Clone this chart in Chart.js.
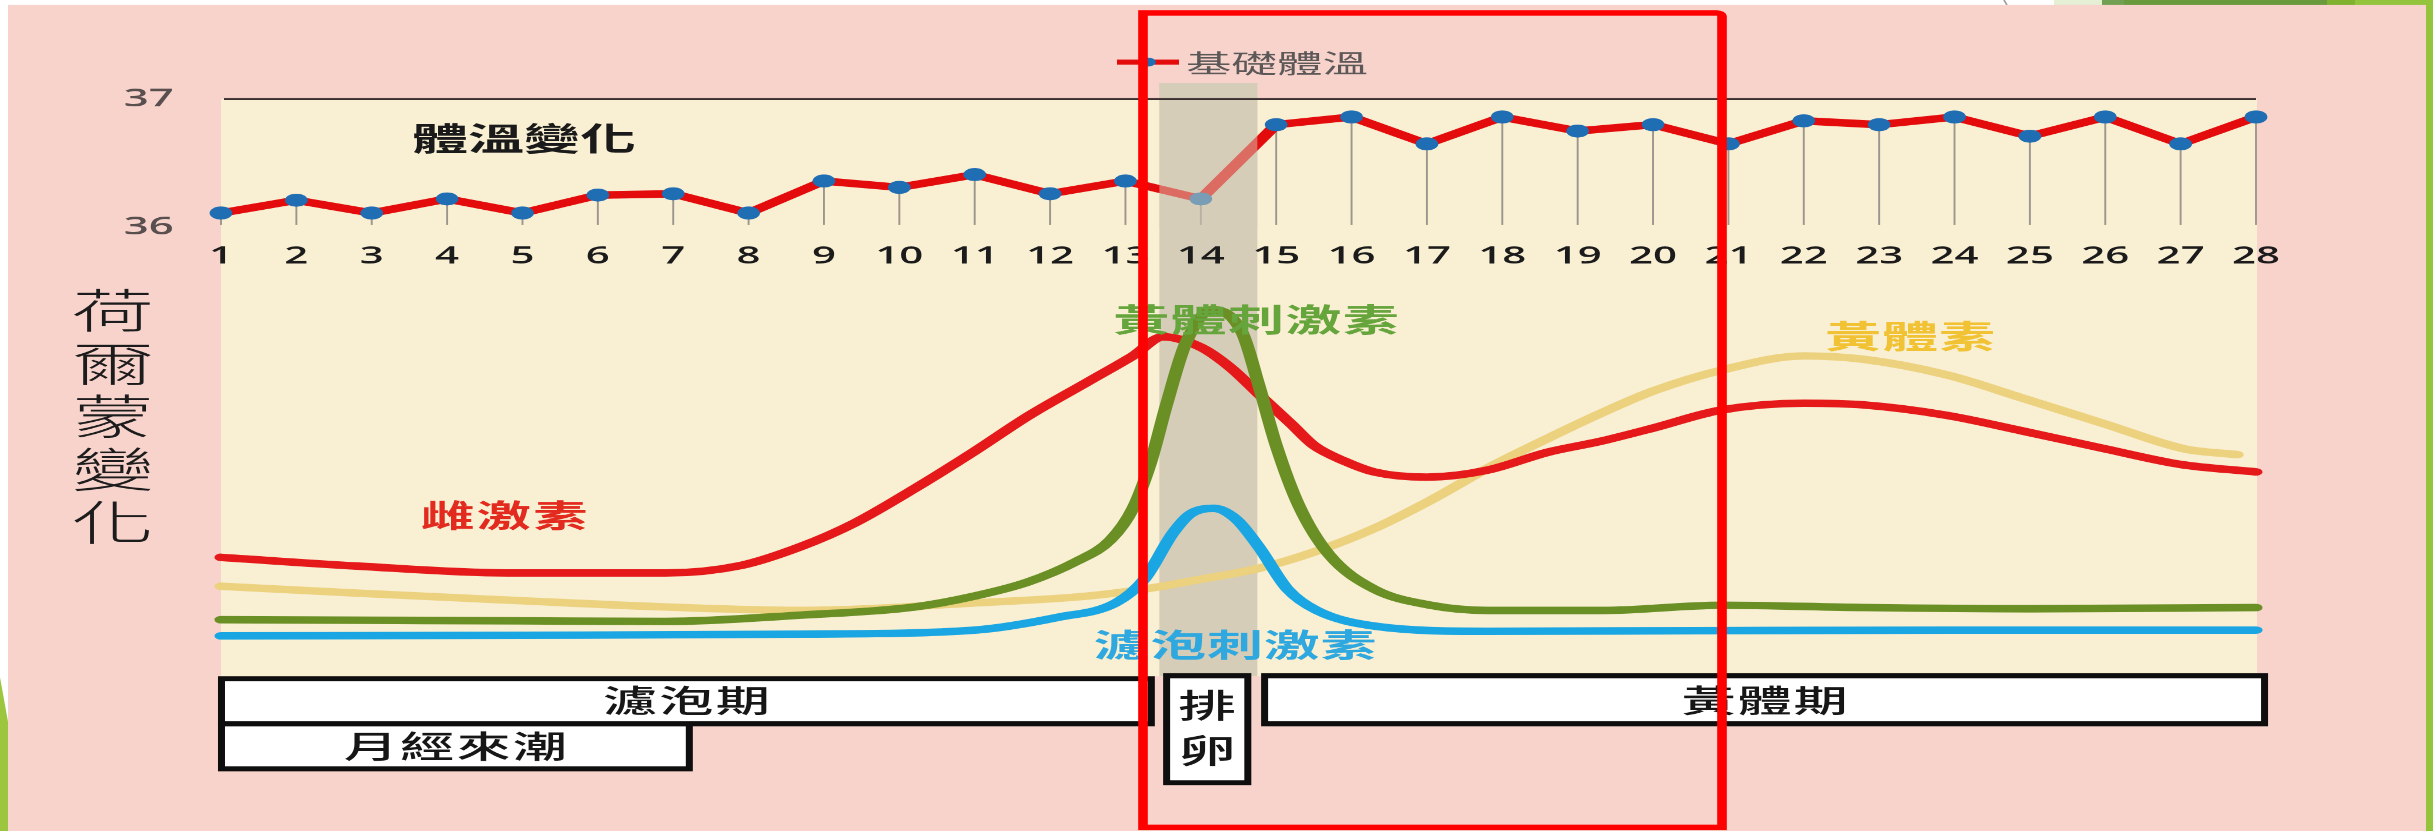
<!DOCTYPE html>
<html>
<head>
<meta charset="utf-8">
<script src="https://cdn.jsdelivr.net/npm/chart.js@4.4.1/dist/chart.umd.min.js"></script>
<style>
  html, body { margin: 0; padding: 0; background: #ffffff; overflow: hidden; }
  #stage { position: relative; width: 2433px; height: 831px; overflow: hidden; }
  .layer { position: absolute; left: 0; top: 0; width: 1390px; height: 831px; transform-origin: 0 0; }
</style>
</head>
<body>
<div id="stage">
  <div class="layer" id="layerHormones"><canvas id="hormones" width="1390" height="831"></canvas></div>
  <div class="layer" id="layerTemp"><canvas id="temperature" width="1390" height="831"></canvas></div>
</div>
<script>
// ---- cycle days and basal body temperature (°C) ----
const dayLabels = ['1','2','3','4','5','6','7','8','9','10','11','12','13','14',
                   '15','16','17','18','19','20','21','22','23','24','25','26','27','28'];
const bodyTemp = [36.11, 36.21, 36.11, 36.22, 36.11, 36.25, 36.26, 36.11, 36.36, 36.31,
                  36.41, 36.26, 36.36, 36.22, 36.80, 36.86, 36.65, 36.86, 36.75, 36.80,
                  36.65, 36.83, 36.80, 36.86, 36.71, 36.86, 36.65, 36.86];
const tempTicks = [36, 37];
const ovulationDays = [13.45, 14.75];

// ---- hormone levels (relative units) sampled along the cycle ----
const estrogenDays = [1, 2.8, 4.8, 6.9, 7.9, 8.7, 9.4, 10.2, 11.0, 11.7, 12.5, 13.1, 13.5, 14.0,
                      14.4, 14.8, 15.2, 15.5, 15.9, 16.3, 17.0, 17.8, 18.6, 19.3, 20.0, 20.9,
                      22.0, 22.8, 23.9, 24.9, 26.0, 27.0, 28.0];
const estrogen = [20.6, 19.1, 17.9, 17.9, 19.2, 22.5, 26.5, 32.5, 39.0, 45.0, 51.0, 55.5, 58.8, 57.0,
                  53.4, 48.5, 43.7, 40.0, 37.3, 35.4, 34.5, 35.7, 38.8, 40.7, 43.0, 46.1,
                  47.3, 47.0, 45.2, 42.5, 39.4, 36.7, 35.4];

const lhDays = [1, 3, 5, 6.9, 8.7, 10.2, 11.0, 11.7, 12.35, 12.8, 13.1, 13.33, 13.55, 13.8,
                14.15, 14.55, 14.77, 15.0, 15.3, 15.7, 16.3, 17.05, 17.8, 19.35, 20.9, 22.8, 25.0, 28.0];
const lh = [9.8, 9.7, 9.6, 9.5, 10.6, 12.0, 13.9, 16.3, 19.9, 23.6, 29.1, 36.9, 47.3, 57.7,
            63.5, 59.5, 50.4, 40.0, 29.6, 21.1, 15.1, 12.3, 11.4, 11.4, 12.3, 11.9, 11.7, 11.9];

const fshDays = [1, 5, 8.7, 11.0, 12.1, 12.87, 13.25, 13.63, 13.86, 14.17, 14.47, 14.77, 15.15,
                 15.54, 16.3, 17.8, 20.6, 24.0, 28.0];
const fsh = [7.0, 7.1, 7.3, 8.0, 10.2, 12.7, 16.8, 24.8, 28.1, 29.1, 27.2, 22.4, 15.1,
             11.4, 8.7, 7.8, 7.9, 8.0, 8.0];

const progesteroneDays = [1, 2.8, 4.8, 6.9, 8.7, 11.0, 12.5, 13.25, 14.0, 14.77, 15.54, 16.3, 17.05,
                          17.8, 18.6, 19.35, 20.0, 20.9, 22.0, 22.8, 23.9, 24.9, 26.0, 27.05, 27.75];
const progesterone = [15.6, 14.4, 13.2, 12.0, 11.4, 12.7, 13.9, 15.1, 16.8, 18.7, 21.7, 25.6, 30.5,
                      36.0, 41.2, 45.8, 49.4, 53.0, 55.5, 54.9, 52.2, 48.2, 43.7, 39.4, 38.4];

// ---- cycle phases (day spans) ----
const phaseNames = ['濾泡期', '月經來潮', '排卵', '黃體期'];
const phaseSpans = [[0.96, 13.39], [0.96, 7.26], [13.50, 14.67], [14.80, 28.16]];
const axisTitle = '荷爾蒙變化';
const chartTitle = '體溫變化';

// The slide is drawn on a narrower canvas and stretched horizontally.
const CW = 1390, CH = 831;
const S = 2433 / CW;
const fx = v => v / S;
document.querySelectorAll('.layer').forEach(el => { el.style.transform = `scaleX(${S})`; });

const CJK = '"Noto Sans CJK TC", "Noto Sans CJK SC", sans-serif';
const NUM = '"Open Sans", "Noto Sans", sans-serif';
Chart.defaults.font.family = NUM;

const pair = (xs, ys) => xs.map((d, i) => ({ x: d, y: ys[i] }));

function drawText(ctx, text, xFull, y, o) {
  ctx.save();
  ctx.font = `${o.weight || 400} ${o.size}px ${CJK}`;
  ctx.fillStyle = o.color;
  ctx.textAlign = o.align || 'center';
  ctx.textBaseline = 'middle';
  const ls = o.ls || 0;
  if ('letterSpacing' in ctx) ctx.letterSpacing = ls + 'px';
  const shift = (ctx.textAlign === 'center' && 'letterSpacing' in ctx) ? ls / 2 : 0;
  ctx.fillText(text, fx(xFull) + shift, y);
  ctx.restore();
}

function fillFull(ctx, x1, y1, x2, y2, color) {
  ctx.fillStyle = color;
  ctx.fillRect(fx(x1), y1, fx(x2) - fx(x1), y2 - y1);
}

// ---- slide backdrop, ovulation band, phase boxes and axis title ----
const backdrop = {
  id: 'backdrop',
  beforeDraw(chart) {
    const { ctx, chartArea, scales: { x } } = chart;
    ctx.save();
    fillFull(ctx, 0, 0, 2433, CH, '#ffffff');
    // corner ornaments of the slide template
    fillFull(ctx, 2054, 0, 2102, 6, '#e5efd4');
    ctx.fillStyle = '#6a9a3e';
    ctx.beginPath();
    ctx.moveTo(fx(2102), 0); ctx.lineTo(fx(2327), 0); ctx.lineTo(fx(2327), 6); ctx.lineTo(fx(2110), 6);
    ctx.closePath(); ctx.fill();
    fillFull(ctx, 2102, 0, 2124, 6, '#72a052');
    fillFull(ctx, 2327, 0, 2355, 6, '#81b131');
    fillFull(ctx, 2355, 0, 2433, 6, '#94c43d');
    fillFull(ctx, 2426, 0, 2433, CH, '#94c43d');
    ctx.strokeStyle = '#9a9a9a'; ctx.lineWidth = 1;
    ctx.beginPath(); ctx.moveTo(fx(2004), 0); ctx.lineTo(fx(2007), 5); ctx.stroke();
    ctx.fillStyle = '#9dc63f';
    ctx.beginPath();
    ctx.moveTo(0, 677); ctx.lineTo(fx(9), 727); ctx.lineTo(fx(9), CH); ctx.lineTo(0, CH);
    ctx.closePath(); ctx.fill();
    // slide panel and plot background
    fillFull(ctx, 8, 5, 2426, CH, '#f7d3cc');
    ctx.fillStyle = '#f9efd3';
    ctx.fillRect(chartArea.left, chartArea.top, chartArea.right - chartArea.left + fx(1), chartArea.bottom - chartArea.top);
    // ovulation band
    const bl = x.getPixelForValue(ovulationDays[0]), br = x.getPixelForValue(ovulationDays[1]);
    ctx.fillStyle = '#d6cdb9';
    ctx.fillRect(bl, 83, br - bl, chartArea.bottom - 83);

    // vertical axis title
    [...axisTitle].forEach((ch, i) => {
      drawText(ctx, ch, 113, 310 + i * 53, { size: 47, weight: 300, color: '#1c1c1c' });
    });

    // phase boxes
    const rows = [[676, 726], [721, 771], [673, 785], [673, 726]];
    const order = [1, 0, 2, 3];
    order.forEach(i => {
      const l = x.getPixelForValue(phaseSpans[i][0]), r = x.getPixelForValue(phaseSpans[i][1]);
      const [t, b] = rows[i];
      ctx.fillStyle = '#0e0e0e';
      ctx.fillRect(l, t, r - l, b - t);
      ctx.fillStyle = '#ffffff';
      ctx.fillRect(l + fx(7), t + 5, r - l - 2 * fx(7), b - t - 10);
    });
    const mid = i => (x.getPixelForValue(phaseSpans[i][0]) + x.getPixelForValue(phaseSpans[i][1])) / 2 * S;
    drawText(ctx, phaseNames[0], mid(0), 700, { size: 31, weight: 500, color: '#161616', ls: 1.2 });
    drawText(ctx, phaseNames[1], mid(1), 746, { size: 31, weight: 500, color: '#161616', ls: 1.2 });
    drawText(ctx, phaseNames[2][0], mid(2), 705, { size: 33, weight: 500, color: '#161616' });
    drawText(ctx, phaseNames[2][1], mid(2), 750, { size: 33, weight: 500, color: '#161616' });
    drawText(ctx, phaseNames[3], mid(3), 700, { size: 31, weight: 500, color: '#161616', ls: 1.0 });
    ctx.restore();
  },
  afterDatasetsDraw(chart) {
    const { ctx } = chart;
    const spots = [
      { x: 1256, y: 319, color: '#66a43c', ls: 0.8 },
      { x: 1235, y: 644, color: '#2ea8df', ls: 0.4 },
      { x: 504,  y: 515, color: '#e32a1f', ls: 1.2, size: 31 },
      { x: 1910, y: 336, color: '#f1c233', ls: 0.5 }
    ];
    chart.data.datasets.forEach((ds, i) => {
      const s = spots[i];
      drawText(ctx, ds.label, s.x, s.y, { size: s.size || 32, weight: 700, color: s.color, ls: s.ls });
    });
  }
};

const curve = (label, xs, ys, color) => ({
  label, data: pair(xs, ys), borderColor: color, borderWidth: 7.5,
  cubicInterpolationMode: 'monotone', pointRadius: 0, clip: false,
  borderCapStyle: 'round', borderJoinStyle: 'round', fill: false
});

new Chart(document.getElementById('hormones'), {
  type: 'line',
  data: {
    datasets: [
      curve('黃體刺激素', lhDays, lh, '#6a8f24'),
      curve('濾泡刺激素', fshDays, fsh, '#1aa6e2'),
      curve('雌激素', estrogenDays, estrogen, '#e5191a'),
      curve('黃體素', progesteroneDays, progesterone, '#ecd27e')
    ]
  },
  options: {
    responsive: false, devicePixelRatio: S, animation: false, events: [],
    layout: { padding: { left: fx(221), right: CW - fx(2256), top: 99, bottom: CH - 676 } },
    scales: {
      x: { type: 'linear', min: 1, max: 28, display: false },
      y: { type: 'linear', min: 0, max: 100, display: false }
    },
    plugins: { legend: { display: false }, tooltip: { enabled: false } }
  },
  plugins: [backdrop]
});

// ---- temperature layer: drop lines, band shading, title, legend, highlight frame ----
const tempDecor = {
  id: 'tempDecor',
  beforeDatasetsDraw(chart) {
    const { ctx, chartArea } = chart;
    const meta = chart.getDatasetMeta(0);
    ctx.save();
    ctx.strokeStyle = '#9c968f';
    ctx.lineWidth = 1.1;
    meta.data.forEach(pt => {
      ctx.beginPath(); ctx.moveTo(pt.x, pt.y); ctx.lineTo(pt.x, chartArea.bottom - 2); ctx.stroke();
    });
    ctx.restore();
  },
  afterDatasetsDraw(chart) {
    const { ctx, chartArea, scales: { x } } = chart;
    ctx.save();
    const bl = x.getPixelForValue(ovulationDays[0] - 1), br = x.getPixelForValue(ovulationDays[1] - 1);
    ctx.fillStyle = 'rgba(214, 205, 185, 0.5)';
    ctx.fillRect(bl, 83, br - bl, chartArea.bottom - 83);
    ctx.strokeStyle = '#3b2f2f';
    ctx.lineWidth = 2;
    ctx.beginPath(); ctx.moveTo(chartArea.left + fx(3), chartArea.top); ctx.lineTo(chartArea.right, chartArea.top); ctx.stroke();
    ctx.restore();
  },
  afterDraw(chart) {
    const { ctx } = chart;
    const ds = chart.data.datasets[0];
    ctx.save();
    drawText(ctx, chartTitle, 524, 138, { size: 32, weight: 700, color: '#1a1a1a' });
    // legend entry
    ctx.strokeStyle = ds.borderColor; ctx.lineWidth = 5; ctx.lineCap = 'butt';
    ctx.beginPath(); ctx.moveTo(fx(1117), 62); ctx.lineTo(fx(1179), 62); ctx.stroke();
    ctx.fillStyle = ds.pointBackgroundColor;
    ctx.beginPath(); ctx.arc(fx(1148), 62, 4.5, 0, Math.PI * 2); ctx.fill();
    drawText(ctx, ds.label, 1186, 63, { size: 26, weight: 400, color: '#5d5858', align: 'left' });
    // highlight frame
    ctx.strokeStyle = '#ff0000'; ctx.lineWidth = 5.5;
    ctx.beginPath();
    if (ctx.roundRect) ctx.roundRect(fx(1143), 13, fx(1722) - fx(1143), 814, [0, 3, 0, 0]);
    else ctx.rect(fx(1143), 13, fx(1722) - fx(1143), 814);
    ctx.stroke();
    ctx.restore();
  }
};

new Chart(document.getElementById('temperature'), {
  type: 'line',
  data: {
    labels: dayLabels,
    datasets: [{
      label: '基礎體溫', data: bodyTemp, borderColor: '#e30b0b', borderWidth: 7.5,
      pointRadius: 6.5, pointBackgroundColor: '#1f6db3', pointBorderColor: '#1f6db3', pointBorderWidth: 0,
      tension: 0, clip: false, borderJoinStyle: 'round'
    }]
  },
  options: {
    responsive: false, devicePixelRatio: S, animation: false, events: [],
    layout: { padding: { left: 0, right: CW - fx(2256), top: 99, bottom: CH - 227 - 40 } },
    scales: {
      x: {
        type: 'category', offset: false,
        grid: { display: false }, border: { display: false },
        ticks: { autoSkip: false, maxRotation: 0, padding: 7, color: '#1b1b1b', font: { family: NUM, size: 24, weight: 600 } },
        afterFit(scale) { scale.height = 40; }
      },
      y: {
        type: 'linear', min: tempTicks[0], max: tempTicks[1],
        grid: { display: false }, border: { display: false },
        afterBuildTicks(scale) { scale.ticks = tempTicks.map(v => ({ value: v })); },
        ticks: { padding: 19, color: '#5a4f4f', font: { family: NUM, size: 25, weight: 600 } },
        afterFit(scale) { scale.width = fx(221); }
      }
    },
    plugins: { legend: { display: false }, tooltip: { enabled: false } }
  },
  plugins: [tempDecor]
});
</script>
</body>
</html>
